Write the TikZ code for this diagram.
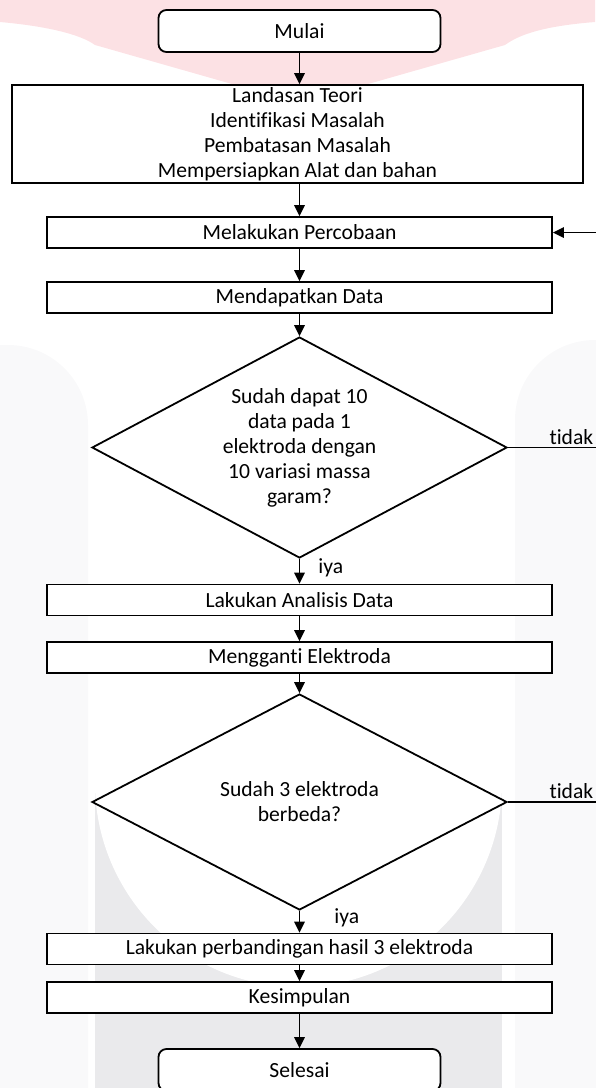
\documentclass[tikz,border=0pt]{standalone}
\usepackage{fontspec}
\setmainfont{Carlito}[Ligatures=NoCommon]
\usetikzlibrary{shapes.geometric, arrows.meta, positioning}

\definecolor{logopink}{HTML}{FCE1E4}
\definecolor{logogrey}{HTML}{F9F9FA}
\definecolor{logogreyb}{HTML}{EAEAEC}

\begin{document}
\begin{tikzpicture}[x=0.5pt, y=-0.5pt, line width=0.9pt,
			> = {Triangle[length=5.5pt, width=5.2pt]},
			font = \fontsize{10.8}{12.5}\selectfont,
			proc/.style = {draw, fill=white, minimum width=252.5pt, minimum height=15.5pt,
				inner sep=0pt, align=center},
			term/.style = {proc, rounded corners=4pt, minimum width=141pt, minimum height=21pt},
			decision/.style = {diamond, draw, fill=white, inner sep=0pt, align=center, aspect=1.88,
				minimum width=207.5pt, minimum height=110.5pt},
			lbl/.style = {inner sep=1pt}]
			\useasboundingbox (0,0) rectangle (595,1088);
			
			% faint logo behind the chart
			\fill[logopink] (0,0) -- (595,0) -- (595,22)
			.. controls (545,26) and (520,34) .. (505,45) -- (340,92) -- (260,92) -- (95,45)
			.. controls (80,34) and (45,26) .. (0,22) -- cycle;
			\fill[logogrey, rounded corners=40pt] (-80,345) rectangle (88,1200);
			\fill[logogrey, rounded corners=40pt] (515,340) rectangle (680,1200);
			\fill[logogreyb] (95,740) rectangle (502,1088);
			\fill[white] (95,700) -- (95,783)
			.. controls (95,895) and (186,987) .. (298.5,987)
			.. controls (411,987) and (502,895) .. (502,783) -- (502,700) -- cycle;
			
			% steps
			\node[term] (mulai) at (299.5,31) {Mulai};
			\node[proc, minimum width=285.5pt, minimum height=49pt] (teori) at (297.5,134)
			{Landasan Teori\\Identifikasi Masalah\\Pembatasan Masalah\\Mempersiapkan Alat dan bahan};
			\node[proc] (coba) at (299.5,232.5) {Melakukan Percobaan};
			\node[proc] (data) at (299.5,297.5) {Mendapatkan Data};
			\node[decision] (cek1) at (299.5,447.5)
			{Sudah dapat 10\\data pada 1\\elektroda dengan\\10 variasi massa\\garam?};
			\node[proc] (analisis) at (299.5,600) {Lakukan Analisis Data};
			\node[proc] (ganti) at (299.5,657.5) {Mengganti Elektroda};
			\node[decision, minimum height=108pt] (cek2) at (299.5,802) {Sudah 3 elektroda\\berbeda?};
			\node[proc] (banding) at (299.5,949) {Lakukan perbandingan hasil 3 elektroda};
			\node[proc] (simpul) at (299.5,997.5) {Kesimpulan};
			\node[term] (selesai) at (299.5,1070) {Selesai};
			\coordinate (balik) at (612,232.5);
			
			% arrows
			\draw[->] (mulai) -- (mulai |- teori.north);
			\draw[->] (mulai |- teori.south) -- (coba);
			\draw[->] (coba) -- (data);
			\draw[->] (data) -- (cek1);
			\draw[->] (cek1) -- node[lbl, anchor=west, pos=0.35, xshift=8pt] {iya} (analisis);
			\draw[->] (analisis) -- (ganti);
			\draw[->] (ganti) -- (cek2);
			\draw[->] (cek2) -- node[lbl, anchor=west, pos=0.3, xshift=16pt] {iya} (banding);
			\draw[->] (banding) -- (simpul);
			\draw[->] (simpul) -- (selesai);
			
			% back to the experiment
			\draw[->] (cek1.east) -- node[lbl, above, pos=0.61] {tidak} (cek1.east -| balik)
			-- (balik) -- (coba.east);
			\draw (cek2.east) -- node[lbl, above, pos=0.61] {tidak} (cek2.east -| balik)
			-- (cek1.east -| balik);
		\end{tikzpicture}
\end{document}
